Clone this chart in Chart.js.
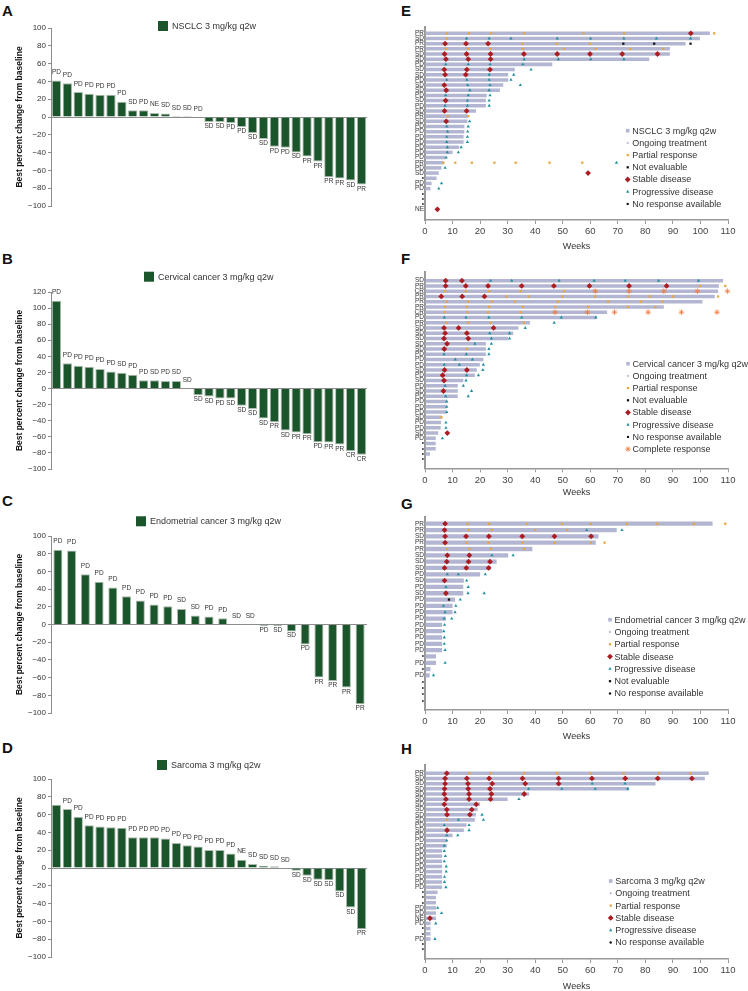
<!DOCTYPE html>
<html>
<head>
<meta charset="utf-8">
<script src="https://cdn.jsdelivr.net/npm/chart.js@4.4.1/dist/chart.umd.min.js"></script>
<style>
  body { margin: 0; background: #fff; width: 748px; height: 991px; position: relative; overflow: hidden;
         font-family: "Liberation Sans", Arial, Helvetica, sans-serif; }
  canvas { position: absolute; }
  .lt { position: absolute; font-weight: bold; font-size: 15px; line-height: 15px; color: #111; }
</style>
</head>
<body>
<div class="lt" style="left:2px;top:3px">A</div>
<div class="lt" style="left:2px;top:251px">B</div>
<div class="lt" style="left:2px;top:493px">C</div>
<div class="lt" style="left:2px;top:740px">D</div>
<div class="lt" style="left:401px;top:3px">E</div>
<div class="lt" style="left:401px;top:251px">F</div>
<div class="lt" style="left:401px;top:496px">G</div>
<div class="lt" style="left:401px;top:741px">H</div>

<canvas id="wfA" width="375" height="240" style="left:0;top:0"></canvas>
<canvas id="wfB" width="375" height="250" style="left:0;top:240px"></canvas>
<canvas id="wfC" width="375" height="250" style="left:0;top:490px"></canvas>
<canvas id="wfD" width="375" height="251" style="left:0;top:740px"></canvas>
<canvas id="swE" width="348" height="252" style="left:400px;top:0"></canvas>
<canvas id="swF" width="348" height="258" style="left:400px;top:240px"></canvas>
<canvas id="swG" width="348" height="252" style="left:400px;top:490px"></canvas>
<canvas id="swH" width="348" height="252" style="left:400px;top:740px"></canvas>

<script>
// ---- waterfall data (best % change, response label under/over each bar)
const nsclcChange = [41, 38, 28, 26, 25, 25, 17, 7.5, 7.5, 4.5, 4, 1, 1, 0,
  -5.6, -5.6, -6.8, -11.3, -18, -24.8, -33.5, -34.6, -39.8, -44.4, -50, -67.7, -69.2, -71.4, -75.9];
const nsclcResp = ['PD','PD','PD','PD','PD','PD','PD','SD','PD','NE','SD','SD','SD','PD',
  'SD','SD','PD','PD','SD','SD','PD','PD','SD','PR','PR','PR','PR','SD','PR'];

const cervChange = [109, 31.5, 28.2, 27, 24.4, 21.1, 19.5, 17, 10.4, 10.4, 9.5, 9.5, 0,
  -8.3, -9.9, -12.4, -12.4, -21.5, -25.3, -37.3, -41.8, -52.2, -54.7, -56.8, -66.7, -67.1, -69.6, -77.5, -82.4];
const cervResp = ['PD','PD','PD','PD','PD','PD','SD','PD','PD','SD','PD','SD','SD',
  'SD','SD','PD','SD','SD','SD','SD','PR','SD','PR','PR','PD','PR','PR','CR','CR'];

const endoChange = [84.4, 83.7, 56.7, 48.4, 41.7, 31.9, 27, 22.5, 20.6, 17.6, 10.1, 9, 7.1, 0, 0,
  -1.5, -1.5, -7.9, -22.5, -60, -63.8, -71.3, -90];
const endoResp = ['PD','PD','PD','PD','PD','PD','PD','PD','PD','SD','SD','PD','PD','SD','SD',
  'PD','SD','SD','PD','PR','PR','PR','PR'];

const sarcChange = [71, 66.2, 57.5, 48.1, 46.6, 45.9, 45.1, 34.6, 34.6, 34.6, 33.1, 28.2, 25.6, 24.1,
  20.3, 20.3, 16.2, 9.4, 4.5, 2.6, 1.9, 0, -3, -8.6, -13.2, -13.9, -26.3, -44.4, -68.8];
const sarcResp = ['','PD','PD','PD','PD','PD','PD','PD','PD','PD','PD','PD','PD','PD','PD','PD','PD',
  'NE','SD','SD','SD','SD','SD','SD','SD','SD','SD','SD','PR'];

const pctTicks = [-100, -80, -60, -40, -20, 0, 20, 40, 60, 80, 100];
const pctTicksB = [-100, -80, -60, -40, -20, 0, 20, 40, 60, 80, 100, 120];
const weekTicks = [0, 10, 20, 30, 40, 50, 60, 70, 80, 90, 100, 110];

// ---- swimmer data: row labels, treatment duration (weeks), assessments as [row, week]
const nsclcRows = ['PR','SD','PR','PR','SD','SD','PD','SD','SD','PD','SD','SD','PD','SD','PD','SD','PR','SD',
  'PD','PD','PD','PD','PD','PD','PD','PR','PD','SD','\u2022','PD','PD','\u2022','\u2022','\u2022','NE'];
const nsclcWeeks = [103.4, 99.8, 94.6, 88.9, 88.9, 81.4, 46.2, 32.6, 30.2, 30.2, 28.4, 27.2, 22.4, 22.1, 22.1,
  18.5, 15.5, 15.4, 14.3, 14.3, 14, 14, 12.3, 10, 7.5, 6.7, 6, 5, 4.2, 2.4, 2, 0, 0, 0, 0];
const nsclcPR = [[0,7.9],[0,16],[0,24],[0,36],[0,57.5],[0,72.3],[0,105],[1,7.9],[2,35.3],[2,47.8],[2,59.9],
  [3,7.6],[3,15.6],[3,23.6],[3,35.5],[3,50.4],[3,62],[3,74.4],[3,86.5],[16,8.2],[16,15.7],
  [25,6.7],[25,11],[25,17],[25,25.2],[25,32.9],[25,45.2],[25,57.1]];
const nsclcSD = [[0,96.5],[2,7.3],[2,14.9],[2,22.9],[4,7.1],[4,15.1],[4,23.8],[4,35.9],[4,48],[4,59.9],[4,71.6],
  [4,84.4],[5,7.6],[5,15.7],[5,23.8],[7,7],[7,15.2],[7,23.6],[8,7.3],[8,14.8],[10,7],[11,7.7],[13,7.5],
  [15,7.1],[15,15.1],[17,7.7],[27,59.2],[34,4.5]];
const nsclcPD = [[1,15.1],[1,23.3],[1,31.2],[1,48],[1,60.1],[1,72.2],[1,84],[1,96.4],[5,36],[5,48.4],[5,60.2],
  [5,72.2],[6,7.5],[6,15.7],[6,23.6],[6,35.5],[7,38.5],[8,23.3],[8,32.2],[9,7.9],[9,15.2],[9,23.3],[9,31.2],
  [10,15.5],[10,23.6],[10,34.6],[11,16.3],[11,23.3],[12,7.5],[12,15.7],[12,23.6],[13,15.4],[13,23.3],
  [14,7.3],[14,15.4],[14,23.3],[17,16.2],[18,7.9],[18,15.7],[19,8.2],[19,15.5],[20,7.9],[20,15.4],
  [21,7.9],[21,15.4],[22,8.1],[22,13.1],[23,8.1],[23,12.1],[24,7.7],[25,69.5],[26,7.3],[29,6],[30,5]];
const nsclcNE = [[2,72],[2,83.2],[2,96.4]];

const cervRows = ['SD','PR','CR','PR','PR','PR','CR','PD','PR','SD','SD','SD','SD','SD','PD','PD','PD','SD',
  'PD','SD','PD','SD','PD','PD','PD','PD','SD','PD','PD','SD','PD','\u2022','\u2022','\u2022','\u2022'];
const cervWeeks = [108.2, 106.7, 106.4, 105.2, 100.7, 86.7, 66.1, 62.3, 38.1, 33.9, 32, 30.2, 22.1, 22.1, 22.1,
  21.2, 19.9, 18.8, 18.1, 13.9, 11.9, 11.9, 11.9, 7.9, 7.9, 7.9, 6, 5.8, 5.7, 4.8, 3.9, 3.9, 3.9, 1.8, 0];
const cervPR = [[1,99.8],[1,109],[2,7.3],[2,14.8],[2,23.3],[2,34.7],[2,50.5],[3,29.6],[3,37.6],[3,49.8],
  [3,61.7],[3,73.8],[3,81.6],[3,90.1],[3,106.4],[4,7.9],[4,15.7],[4,24.2],[4,32.6],[4,48.2],[4,66.5],
  [4,78.4],[4,86.2],[5,7.3],[5,15.1],[5,23.3],[5,35.5],[5,47.3],[5,59.2],[5,73.6],[5,83.6],[6,7.1],
  [6,15.4],[6,22.9],[6,34.7],[8,7.9],[8,15.7],[8,23.8],[8,35.9],[13,15.1],[26,6]];
const cervSD = [[0,7.5],[0,13.4],[1,7.5],[1,14.8],[1,22.9],[1,35.1],[1,46.8],[1,59.7],[1,74.1],[1,87.7],
  [3,5.9],[3,13.5],[3,21.6],[9,6.9],[9,12.2],[9,24.9],[10,7.3],[10,15.2],[11,6.9],[11,15.7],[12,8],
  [13,7],[17,7.1],[17,15.2],[18,6.4],[19,6.9],[21,6.7],[29,8.1]];
const cervPD = [[0,23.8],[0,31.5],[0,48.7],[0,61.4],[0,72.7],[0,84.8],[0,99.3],[0,112.7],[7,7],[7,14.9],
  [7,23.2],[7,35.1],[7,49.5],[7,62],[8,46.9],[9,36.4],[10,23.5],[10,30.7],[11,24.1],[11,30.7],[12,18.1],
  [12,24.1],[13,23.2],[14,6.9],[14,15],[14,23.2],[15,11],[15,17.2],[16,7],[16,12.5],[16,21.2],[17,21],
  [18,15.1],[18,19.4],[19,14.9],[20,7.3],[20,13.9],[21,16.9],[22,7.5],[22,15.7],[23,7.9],[24,7.9],
  [25,7.9],[27,7.6],[28,7.6],[30,6.3]];
const cervCR = [[2,61.8],[2,74.1],[2,86.7],[2,98.9],[2,109.8],[2,116.4],[6,47.2],[6,59],[6,68.8],[6,81],
  [6,93.1],[6,106]];

const endoRows = ['PR','PR','SD','PR','PR','SD','SD','SD','PD','SD','PD','SD','PD','PD','PD','PD','PD','PD',
  'PD','PD','PD','\u2022','PD','\u2022','PD','\u2022','\u2022','\u2022','\u2022'];
const endoWeeks = [104.4, 69.6, 63, 62, 39, 30.2, 26, 23.9, 20, 14.1, 13.9, 13.9, 10.9, 10, 10, 7.6, 6.2, 6.2,
  6.2, 6.2, 6.2, 4, 4, 2, 1.7, 0, 0, 0, 0];
const endoPR = [[0,15.4],[0,23.3],[0,37],[0,49.7],[0,60.2],[0,73.3],[0,84.4],[0,97.6],[0,109],[1,15.8],
  [1,24.2],[1,40],[1,51.6],[3,15.1],[3,23.1],[3,35.3],[3,47],[3,60.2],[3,65.2],[4,8],[4,16.1],[4,23.9],[4,36]];
const endoSD = [[0,7.3],[1,7.1],[2,7.3],[2,14.9],[2,23.2],[2,35.3],[2,47],[2,60.3],[3,7.3],[5,8.1],[5,16.1],
  [6,7.9],[6,15.8],[6,23.6],[7,7.1],[7,15],[7,23.1],[9,7.1],[11,7.6]];
const endoPD = [[1,58.7],[1,71.5],[5,24.3],[5,32],[8,8.1],[8,12.1],[8,21.9],[9,15.1],[10,7.6],[10,15.7],
  [11,15.6],[11,21.5],[12,12.8],[13,6.7],[13,11.2],[14,7.3],[14,10.9],[15,6.9],[15,9.7],[16,7.1],[17,6.8],
  [18,7],[19,7],[20,7.3],[22,7.3],[24,3.1]];
const endoNE = [[12,8.7]];

const sarcRows = ['PR','SD','SD','SD','SD','SD','SD','SD','SD','SD','PD','SD','PD','PD','PD','PD','PD','PD',
  'PD','PD','PD','PD','PD','\u2022','\u2022','\u2022','PD','PD','NE','PD','\u2022','\u2022','PD','\u2022','\u2022'];
const sarcWeeks = [103, 101.6, 83.7, 74.1, 37.8, 30, 20, 19.1, 18.5, 18.1, 15.1, 14.1, 10, 7.9, 7.9, 6.2, 6.2,
  6.2, 6.2, 6.2, 6.2, 6.2, 6.2, 4.6, 4, 4, 4, 4, 4, 2, 2, 2, 2, 0, 0];
const sarcPR = [[0,16.1],[0,23.8],[0,36],[0,47.9],[0,60.1],[0,72.1],[0,84.9],[0,96.3],[9,8]];
const sarcSD = [[0,7.9],[1,7.3],[1,15.2],[1,23.3],[1,35.4],[1,48.5],[1,60.6],[1,72.7],[1,84.5],[1,96.9],
  [2,7.3],[2,15.6],[2,24.4],[2,36.4],[2,48.5],[3,7.1],[3,15.7],[3,23.6],[4,7],[4,16],[4,24.1],[4,36],
  [5,7.6],[5,16],[5,23.8],[6,7],[6,18.6],[7,7.9],[7,17],[8,8],[8,16.3],[11,8],[28,1.8]];
const sarcPD = [[2,60.7],[2,72.6],[3,37.6],[3,49.7],[3,61.8],[3,73.6],[5,34.1],[8,20.7],[9,12.1],[9,21.2],
  [10,7],[10,16],[11,16],[12,7.9],[12,11.9],[13,7.9],[14,7],[15,7],[16,7.4],[17,7],[18,7.7],[19,7.7],
  [20,7.1],[21,7.1],[22,7.6],[26,4.6],[27,6],[29,3.9],[32,3.6]];

// ---- styles
const FONT = '"Liberation Sans", Arial, Helvetica, sans-serif';
const INK = '#333';
const GREEN = '#1b552b';
const LAV = '#b3b6d2';
Chart.defaults.font.family = FONT;

const MARK = {
  ongoing: { label: 'Ongoing treatment', style: 'triangle', radius: 1.7, rotation: 90, color: LAV },
  pr: { label: 'Partial response', style: 'rect', radius: 1.6, color: '#e9a43a' },
  ne: { label: 'Not evaluable', style: 'rect', radius: 1.6, color: '#111' },
  sd: { label: 'Stable disease', style: 'rectRot', radius: 2.9, color: '#ab1d22' },
  pd: { label: 'Progressive disease', style: 'triangle', radius: 1.9, color: '#20909d' },
  nr: { label: 'No response available', style: 'circle', radius: 1.2, color: '#111' },
  cr: { label: 'Complete response', style: 'star', radius: 2.8, color: '#f27b3c', lineWidth: 0.8 }
};

// small legend drawn inside the canvas at a fixed spot
function legendPlugin(spec) {
  return {
    id: 'boxLegend',
    afterDraw(chart) {
      const ctx = chart.ctx;
      ctx.save();
      ctx.font = spec.size + 'px ' + FONT;
      ctx.textBaseline = 'middle';
      ctx.textAlign = 'left';
      spec.items.forEach((it, k) => {
        const y = spec.y + k * spec.step;
        ctx.fillStyle = it.color;
        ctx.strokeStyle = it.color;
        ctx.lineWidth = it.lineWidth || 0;
        if (it.box) {
          ctx.fillRect(spec.mx - it.box[0] / 2, y - it.box[1] / 2, it.box[0], it.box[1]);
        } else {
          Chart.helpers.drawPoint(ctx, { pointStyle: it.style, radius: it.radius,
            rotation: it.rotation || 0, borderWidth: it.lineWidth || 0 }, spec.mx, y);
        }
        ctx.fillStyle = INK;
        ctx.fillText(it.label, spec.tx, y + 0.5);
      });
      ctx.restore();
    }
  };
}

// response codes over / under each waterfall bar
function barLabels(resp) {
  return {
    id: 'barLabels',
    afterDatasetsDraw(chart) {
      const ctx = chart.ctx;
      const vals = chart.data.datasets[0].data;
      ctx.save();
      ctx.font = '6.5px ' + FONT;
      ctx.fillStyle = INK;
      ctx.textAlign = 'center';
      ctx.textBaseline = 'alphabetic';
      chart.getDatasetMeta(0).data.forEach((bar, i) => {
        if (!resp[i]) return;
        ctx.fillText(resp[i], bar.x, vals[i] < 0 ? bar.y + 6 : bar.y - 6.5);
      });
      ctx.restore();
    }
  };
}

function waterfall(id, w) {
  new Chart(document.getElementById(id), {
    type: 'bar',
    data: {
      labels: w.values.map((v, i) => String(i + 1)),
      datasets: [{
        label: w.name, data: w.values, backgroundColor: GREEN,
        borderColor: '#aebbaf', borderWidth: 1, barPercentage: w.barPct, categoryPercentage: 1
      }]
    },
    options: {
      responsive: false, animation: false, events: [],
      layout: { padding: { left: 15, right: 8, top: w.top, bottom: w.bottom } },
      plugins: { legend: { display: false }, tooltip: { enabled: false } },
      scales: {
        x: { display: false, offset: true },
        y: {
          min: -100, max: w.ticks[w.ticks.length - 1],
          afterBuildTicks: s => { s.ticks = w.ticks.map(v => ({ value: v })); },
          ticks: { color: INK, font: { size: 8 }, padding: 2,
                   callback: v => v < 0 ? '\u2212' + Math.abs(v) : String(v) },
          grid: { color: c => (c.tick && c.tick.value === 0) ? '#8c8c8c' : 'rgba(0,0,0,0)',
                  tickColor: '#8c8c8c', tickLength: 3 },
          border: { color: '#8c8c8c', width: 1 },
          title: { display: true, text: 'Best percent change from baseline', color: '#111',
                   font: { size: 8.5, weight: 'bold' }, padding: 0 },
          afterFit: s => { s.width = 36; }
        }
      }
    },
    plugins: [barLabels(w.resp), legendPlugin({ size: 9, mx: w.legX + 5, tx: w.legX + 14, y: w.legY, step: 0,
      items: [{ label: w.name, box: [10, 10], color: GREEN }] })]
  });
}

function swimmer(id, s) {
  const datasets = [{
    type: 'bar', label: s.name,
    data: s.weeks.map((w, i) => ({ x: w, y: i })).filter(d => d.x > 0),
    backgroundColor: LAV, barPercentage: 0.68, categoryPercentage: 1, order: 2
  }];
  s.marks.forEach(([pts, m]) => {
    datasets.push({
      type: 'scatter', label: m.label,
      data: pts.map(p => ({ x: p[1], y: p[0] })),
      pointStyle: m.style, pointRadius: m.radius, pointHoverRadius: m.radius,
      pointBackgroundColor: m.color, pointBorderColor: m.color, pointBorderWidth: m.lineWidth || 0,
      clip: false, order: 1
    });
  });
  new Chart(document.getElementById(id), {
    type: 'bar',
    data: { datasets },
    options: {
      indexAxis: 'y', responsive: false, animation: false, events: [],
      layout: { padding: { left: 0, right: 20, top: s.top, bottom: 0 } },
      plugins: { legend: { display: false }, tooltip: { enabled: false } },
      scales: {
        x: {
          type: 'linear', min: 0, max: 110,
          afterBuildTicks: a => { a.ticks = weekTicks.map(v => ({ value: v })); },
          ticks: { color: '#444', font: { size: 9.5 }, padding: 2, maxRotation: 0, autoSkip: false },
          grid: { drawOnChartArea: false, color: '#999', tickLength: 4 },
          border: { color: '#999', width: 1.5 },
          title: { display: true, text: 'Weeks', color: INK, font: { size: 9 }, padding: 0 },
          afterFit: a => { a.height = s.xh; }
        },
        y: {
          type: 'linear', reverse: true, offset: false, min: s.min, max: s.max,
          afterBuildTicks: a => { a.ticks = s.rows.map((r, i) => ({ value: i })); },
          ticks: { autoSkip: false, color: INK, font: { size: 6.5 }, padding: 1, callback: v => s.rows[v] },
          grid: { drawOnChartArea: false, drawTicks: false },
          border: { color: '#999', width: 2 },
          afterFit: a => { a.width = 25; }
        }
      }
    },
    plugins: [legendPlugin({ size: 9, mx: s.legX, tx: s.legX + 4.5, y: s.legY, step: s.legStep,
      items: [{ label: s.name, box: [3.6, 3.6], color: LAV }].concat(s.legend) })]
  });
}

waterfall('wfA', { name: 'NSCLC 3 mg/kg q2w', values: nsclcChange, resp: nsclcResp, ticks: pctTicks,
  barPct: 0.86, top: 28, bottom: 34, legX: 158, legY: 26 });
waterfall('wfB', { name: 'Cervical cancer 3 mg/kg q2w', values: cervChange, resp: cervResp, ticks: pctTicksB,
  barPct: 0.86, top: 52, bottom: 21, legX: 144, legY: 36.7 });
waterfall('wfC', { name: 'Endometrial cancer 3 mg/kg q2w', values: endoChange, resp: endoResp, ticks: pctTicks,
  barPct: 0.66, top: 46, bottom: 27, legX: 136, legY: 31.3 });
waterfall('wfD', { name: 'Sarcoma 3 mg/kg q2w', values: sarcChange, resp: sarcResp, ticks: pctTicks,
  barPct: 0.86, top: 39, bottom: 34, legX: 157, legY: 25 });

swimmer('swE', { name: 'NSCLC 3 mg/kg q2w', rows: nsclcRows, weeks: nsclcWeeks,
  marks: [[nsclcPR, MARK.pr], [nsclcNE, MARK.ne], [nsclcPD, MARK.pd], [nsclcSD, MARK.sd]],
  min: -1.22, max: 36.07, top: 27, xh: 32, legX: 227.7, legY: 130.7, legStep: 12.2,
  legend: [MARK.ongoing, MARK.pr, MARK.ne, MARK.sd, MARK.pd, MARK.nr] });
swimmer('swF', { name: 'Cervical cancer 3 mg/kg q2w', rows: cervRows, weeks: cervWeeks,
  marks: [[cervPR, MARK.pr], [cervPD, MARK.pd], [cervCR, MARK.cr], [cervSD, MARK.sd]],
  min: -1.71, max: 35.71, top: 31.7, xh: 29.7, legX: 228, legY: 123.7, legStep: 12.2,
  legend: [MARK.ongoing, MARK.pr, MARK.ne, MARK.sd, MARK.pd, MARK.nr, MARK.cr] });
swimmer('swG', { name: 'Endometrial cancer 3 mg/kg q2w', rows: endoRows, weeks: endoWeeks,
  marks: [[endoPR, MARK.pr], [endoNE, MARK.ne], [endoPD, MARK.pd], [endoSD, MARK.sd]],
  min: -1.11, max: 29.47, top: 26.7, xh: 32, legX: 210, legY: 129.7, legStep: 12.3,
  legend: [MARK.ongoing, MARK.pr, MARK.sd, MARK.pd, MARK.ne, MARK.nr] });
swimmer('swH', { name: 'Sarcoma 3 mg/kg q2w', rows: sarcRows, weeks: sarcWeeks,
  marks: [[sarcPR, MARK.pr], [sarcPD, MARK.pd], [sarcSD, MARK.sd]],
  min: -1.6, max: 35.87, top: 25, xh: 33, legX: 210.7, legY: 141, legStep: 12.3,
  legend: [MARK.ongoing, MARK.pr, MARK.sd, MARK.pd, MARK.nr] });
</script>
</body>
</html>
